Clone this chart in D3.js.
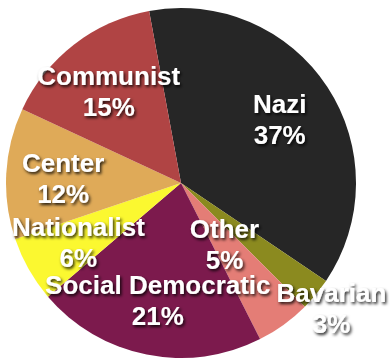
<!DOCTYPE html>
<html>
<head>
<meta charset="utf-8">
<script src="https://cdn.jsdelivr.net/npm/d3@7"></script>
<style>
  html, body { margin: 0; padding: 0; background: #fff; }
  svg { display: block; }
  .lbl { font-family: "Liberation Sans", Arial, Helvetica, sans-serif; font-weight: bold; font-size: 26px; fill: #fff; }
</style>
</head>
<body>
<svg id="chart" width="391" height="358"></svg>
<script>
// Reichstag seat shares by party (percent)
const parties = ["Nazi", "Bavarian", "Other", "Social Democratic", "Nationalist", "Center", "Communist"];
const shares = [37, 3, 5, 21, 6, 12, 15];
const colors = ["#262626", "#8b8a1f", "#e47d76", "#7c1a4d", "#fbf830", "#dfaa58", "#b04444"];

const width = 391, height = 358;
const cx = 181, cy = 183, radius = 175;

const svg = d3.select("#chart");

const defs = svg.append("defs");
const shadow = defs.append("filter").attr("id", "txtShadow")
  .attr("x", "-20%").attr("y", "-30%").attr("width", "140%").attr("height", "170%");
shadow.append("feDropShadow")
  .attr("dx", 1.5).attr("dy", 2).attr("stdDeviation", 1.4)
  .attr("flood-color", "#000").attr("flood-opacity", 0.85);

const data = parties.map((p, i) => ({ party: p, share: shares[i], color: colors[i] }));

const startDeg = -10.5;
const pie = d3.pie()
  .sort(null)
  .value(d => d.share)
  .startAngle(startDeg * Math.PI / 180)
  .endAngle((startDeg + 360) * Math.PI / 180);

const arcs = pie(data);
const arc = d3.arc().innerRadius(0).outerRadius(radius);

const g = svg.append("g").attr("transform", `translate(${cx},${cy})`);

g.selectAll("path.slice")
  .data(arcs)
  .join("path")
  .attr("class", "slice")
  .attr("d", arc)
  .attr("fill", d => d.data.color);

// labels sit on a ring; the two narrow right-hand wedges use their own radius
function labelRadius(d) {
  if (d.data.party === "Other") return 74;
  if (d.data.party === "Bavarian") return 195;
  return 118;
}

const labels = g.selectAll("g.label")
  .data(arcs)
  .join("g")
  .attr("class", "label")
  .attr("filter", "url(#txtShadow)")
  .attr("transform", d => {
    const a = (d.startAngle + d.endAngle) / 2;
    const r = labelRadius(d);
    return `translate(${r * Math.sin(a)},${-r * Math.cos(a)})`;
  });

labels.append("text")
  .attr("class", "lbl")
  .attr("text-anchor", "middle")
  .attr("y", -5)
  .text(d => d.data.party);

labels.append("text")
  .attr("class", "lbl")
  .attr("text-anchor", "middle")
  .attr("y", 26)
  .text(d => d.data.share + "%");
</script>
</body>
</html>
